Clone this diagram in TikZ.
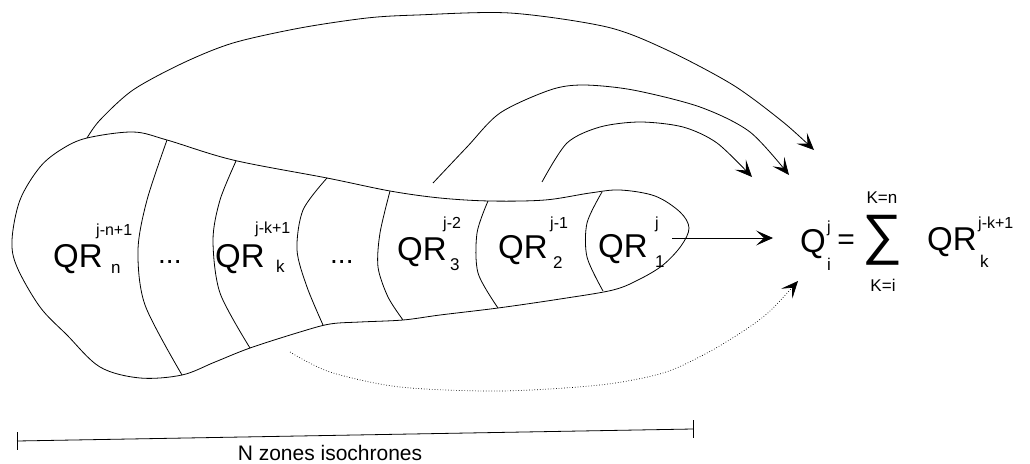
\documentclass[tikz,border=0pt]{standalone}
\usepackage{fontspec}
\usepackage{graphicx}
\setmainfont{Liberation Sans}
\usetikzlibrary{arrows.meta}
\begin{document}
\begin{tikzpicture}[x=1pt,y=-1pt,
  lin/.style={line width=0.8pt},
  big/.style={inner sep=0pt,anchor=base west,font=\fontsize{33}{33}\selectfont},
  supt/.style={inner sep=0pt,anchor=base west,font=\fontsize{16}{16}\selectfont},
  subt/.style={inner sep=0pt,anchor=base west,font=\fontsize{17}{17}\selectfont},
  limt/.style={inner sep=0pt,anchor=base,font=\fontsize{17}{17}\selectfont},
  dotst/.style={inner sep=0pt,anchor=base west,font=\fontsize{28}{28}\selectfont},
  arr/.style={-{Stealth[length=17pt,width=15pt,inset=8pt]}}]
\useasboundingbox (0,0) rectangle (1030,463);

% outline of the catchment
\draw[lin] plot[smooth cycle, tension=0.55] coordinates {
 (87,138) (133,132) (167,140) (233,160) (327,178) (390,191) (440,198)
 (490,201) (545,200) (590,193) (620,190) (655,196) (680,212) (689,228)
 (681,246) (663,265) (640,279) (613,290) (560,299) (498,308) (440,315)
 (403,320) (360,322) (330,324) (300,332) (250,348) (215,362) (182,375)
 (140,378) (100,367) (67,335) (40,307) (17,267) (12,240) (20,200)
 (40,167) (62,149)};

% dividers between isochrone zones
\draw[lin] plot[smooth] coordinates {(167,140) (147,200) (138,250) (145,305) (182,375)};
\draw[lin] plot[smooth] coordinates {(236,161) (220,200) (213,240) (220,293) (250,348)};
\draw[lin] plot[smooth] coordinates {(327,178) (303,210) (297,250) (307,287) (323,325)};
\draw[lin] plot[smooth] coordinates {(390,191) (380,233) (378,267) (388,297) (403,320)};
\draw[lin] plot[smooth] coordinates {(488,201) (477,233) (478,273) (498,308)};
\draw[lin] plot[smooth] coordinates {(602,192) (587,223) (587,257) (603,291)};

% zone labels
\node[big] (qrn) at (53,267) {QR};
\node[supt] (qrnsup) at (96,235) {j-n+1};
\node[subt] (qrnsub) at (111,273) {n};
\node[dotst] (dots1) at (158,263) {...};
\node[big] (qrk) at (215,267) {QR};
\node[supt] (qrksup) at (255,233) {j-k+1};
\node[subt] (qrksub) at (276,272) {k};
\node[dotst] (dots2) at (330,263) {...};
\node[big] (qr3) at (397,260) {QR};
\node[supt] (qr3sup) at (443,228) {j-2};
\node[subt] (qr3sub) at (450,270) {3};
\node[big] (qr2) at (498,258) {QR};
\node[supt] (qr2sup) at (550,228) {j-1};
\node[subt] (qr2sub) at (553,268) {2};
\node[big] (qr1) at (598,257) {QR};
\node[supt] (qr1sup) at (655,228) {j};
\node[subt] (qr1sub) at (655,267) {1};

% formula
\node[big] (Q) at (800,252) {Q};
\node[supt] (Qsup) at (827,232) {j};
\node[subt] (Qsub) at (827,270) {i};
\node[inner sep=0pt,font=\fontsize{30}{30}\selectfont] (eq) at (846,242) {=};
\node[inner sep=0pt] (sum) at (882,240) {\resizebox*{40pt}{50pt}{∑}};
\node[limt] (top) at (882,203) {K=n};
\node[limt] (bot) at (883,291) {K=i};
\node[big] (qrf) at (927,250) {QR};
\node[supt] (qrfsup) at (978,228) {j-k+1};
\node[subt] (qrfsub) at (980,267) {k};

% arrows
\coordinate (s0) at (672,238);
\coordinate (s1) at (773,238);
\draw[lin,arr] (s0) -- (s1);

\draw[lin,arr] plot[smooth] coordinates {(87,138) (100,120) (133,90) (183,63) (233,43)
  (300,28) (367,18) (417,15) (510,13) (607,27) (667,50) (733,85) (783,122) (814,150)};
\draw[lin,arr] plot[smooth] coordinates {(433,183) (467,147) (500,113) (550,90) (583,85)
  (633,90) (700,107) (750,132) (789,175)};
\draw[lin,arr] plot[smooth] coordinates {(542,182) (567,143) (600,127) (640,122) (683,127)
  (717,143) (752,177)};
\draw[line width=0.7pt,dotted,arr] plot[smooth] coordinates {(290,352) (330,372) (400,387)
  (500,391) (600,385) (663,373) (707,353) (745,330) (770,311) (798,281)};

% scale bar
\coordinate (bl) at (17,441);
\coordinate (br) at (693,429);
\draw[lin] (bl) -- (br);
\draw[lin] ([yshift=9pt]bl) -- ([yshift=-9pt]bl);
\draw[lin] ([yshift=9pt]br) -- ([yshift=-9pt]br);
\node[inner sep=0pt,anchor=base,font=\fontsize{21}{21}\selectfont] (lbl) at (330,460) {N zones isochrones};
\end{tikzpicture}
\end{document}
